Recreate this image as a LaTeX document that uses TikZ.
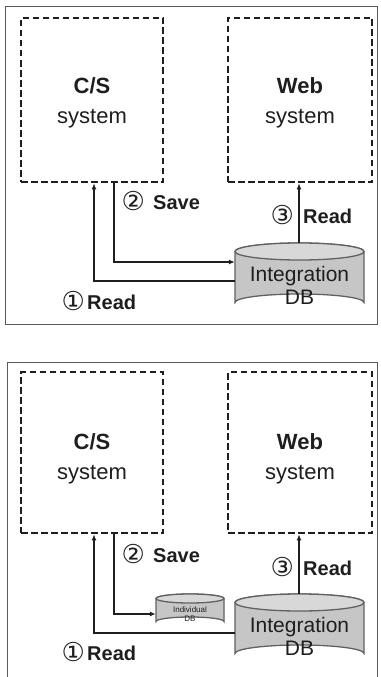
\documentclass[tikz,border=0pt]{standalone}
\usepackage{fontspec}
\setmainfont{Liberation Sans}
\newfontfamily\symfont{DejaVu Sans}
\usetikzlibrary{arrows.meta}
\definecolor{ink}{HTML}{1E1E1E}
\definecolor{dbfill}{HTML}{C6C6C6}
\definecolor{dbtop}{HTML}{D8D8D8}
\definecolor{framec}{HTML}{5A5A5A}
\tikzset{
  frame/.style={draw=framec, line width=1pt},
  sysbox/.style={draw=ink, line width=2.6pt, dash pattern=on 6.5pt off 3.5pt, minimum width=142pt, inner sep=0pt},
  systext/.style={align=center, font=\fontsize{22}{30}\selectfont, text=ink, inner sep=0pt},
  lbl/.style={font=\fontsize{20}{24}\selectfont\bfseries, text=ink, inner sep=0pt, anchor=base west},
  conn/.style={draw=ink, line width=1.3pt},
  arr/.style={conn, -{Latex[length=6pt,width=5pt]}},
  dbshape/.style={draw=ink!70, fill=dbfill, line width=1.3pt},
  dbtext/.style={align=center, font=\fontsize{21}{23}\selectfont, text=ink, inner sep=0pt},
  smalldbtext/.style={align=center, font=\fontsize{8}{9.5}\selectfont, text=ink, inner sep=0pt},
}
\newcommand{\circd}[1]{\makebox[20pt][c]{\symfont\mdseries\fontsize{26}{26}\selectfont\raisebox{-1.5pt}{#1}}}
\newcommand{\cyl}[5]{% left, right, top, bottom, ry
  \path[dbshape] (#1,#3+#5) -- (#1,#4-#5) arc[start angle=180,end angle=360,x radius={(#2-#1)/2},y radius=#5] -- (#2,#3+#5) arc[start angle=0,end angle=-180,x radius={(#2-#1)/2},y radius=#5] -- cycle;
  \path[dbshape, fill=dbtop] ({(#1+#2)/2},#3+#5) ellipse[x radius={(#2-#1)/2},y radius=#5];
}
\begin{document}
\begin{tikzpicture}[x=1pt,y=-1pt]
\useasboundingbox (0,0) rectangle (380,677);
% ===== top panel =====
\draw[frame] (5,7) rectangle (377,324);
\node[sysbox, minimum height=164pt] (cs1) at (92,100) {};
\node[sysbox, minimum height=164pt, minimum width=144pt] (web1) at (300,100) {};
\node[systext] (cs1t) at (92,103) {\textbf{C/S}\\system};
\node[systext] (web1t) at (300,103) {\textbf{Web}\\system};
\cyl{235}{364}{243}{311}{8.5}
\node[inner sep=0pt, minimum width=129pt, minimum height=68pt] (idb1) at (299.5,277) {};
\node[dbtext] (idb1t) at (299.5,285) {Integration\\DB};
\coordinate (r1a) at (idb1.west |- 0,281);
\coordinate (s1a) at (idb1.west |- 0,262);
\draw[arr] (r1a) -- (94,281) -- (cs1.south -| 94,0);
\draw[arr] (cs1.south -| 114,0) -- (114,262) -- (s1a);
\draw[arr] (idb1.north -| 299,0) -- (web1.south -| 299,0);
\node[lbl] (save1) at (123,209) {\circd{②}\hspace{10pt}Save};
\node[lbl] (read3a) at (272,223) {\circd{③}\hspace{11pt}Read};
\node[lbl] (read1a) at (63,309) {\circd{①}\hspace{4pt}Read};
% ===== bottom panel =====
\draw[frame] (7,690) -- (7,362) -- (377,362) -- (377,690);
\node[sysbox, minimum height=161pt] (cs2) at (92,452.5) {};
\node[sysbox, minimum height=161pt, minimum width=144pt] (web2) at (300,452.5) {};
\node[systext] (cs2t) at (92,458.5) {\textbf{C/S}\\system};
\node[systext] (web2t) at (300,458.5) {\textbf{Web}\\system};
\cyl{156}{224}{594}{626}{4.5}
\node[inner sep=0pt, minimum width=68pt, minimum height=32pt] (ind) at (190,610) {};
\node[smalldbtext] (indt) at (190,614) {Individual\\DB};
\cyl{235}{364}{594}{662}{8.5}
\node[inner sep=0pt, minimum width=129pt, minimum height=68pt] (idb2) at (299.5,628) {};
\node[dbtext] (idb2t) at (299.5,636) {Integration\\DB};
\coordinate (r2a) at (idb2.west |- 0,633);
\coordinate (s2a) at (ind.west |- 0,614);
\draw[arr] (r2a) -- (94,633) -- (cs2.south -| 94,0);
\draw[arr] (cs2.south -| 114,0) -- (114,614) -- (s2a);
\draw[arr] (idb2.north -| 299,0) -- (web2.south -| 299,0);
\node[lbl] (save2) at (123,562) {\circd{②}\hspace{10pt}Save};
\node[lbl] (read3b) at (272,575) {\circd{③}\hspace{11pt}Read};
\node[lbl] (read1b) at (63,660) {\circd{①}\hspace{4pt}Read};
\end{tikzpicture}
\end{document}
